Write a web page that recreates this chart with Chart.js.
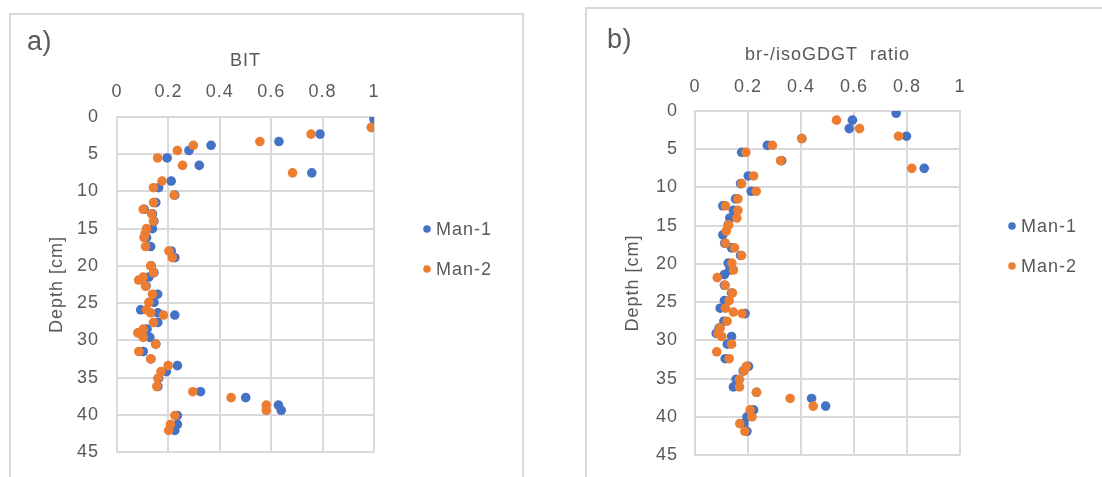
<!DOCTYPE html>
<html><head><meta charset="utf-8">
<script src="https://cdn.jsdelivr.net/npm/chart.js@4"></script>
<style>
html,body{margin:0;padding:0;background:#fff;width:1102px;height:477px;overflow:hidden;}
.panel{position:absolute;border:2px solid #d9d9d9;border-bottom:none;box-sizing:border-box;}
#pa{left:9px;top:13px;width:515px;height:470px;}
#pb{left:585px;top:7px;width:540px;height:480px;}
canvas{position:absolute;}
</style></head><body>
<div class="panel" id="pa"></div><div class="panel" id="pb"></div>
<canvas id="ca" width="540" height="477" style="left:0px;top:0px"></canvas>
<canvas id="cb" width="542" height="477" style="left:560px;top:0px"></canvas>
<script>
// ---- data ----
const seriesNames = ['Man-1', 'Man-2'];
const xTicksLabel = [0, 0.2, 0.4, 0.6, 0.8, 1];
const depthTicks = [0, 5, 10, 15, 20, 25, 30, 35, 40, 45];

const bitDepth = [0.3,1.4,2.3,3.3,3.8,4.5,5.5,6.5,7.5,8.6,9.5,10.5,11.5,12.4,13.0,14.0,15.0,15.6,16.2,17.4,18.0,18.9,20.0,20.9,21.5,21.9,22.7,23.8,24.9,25.9,26.3,26.6,27.6,28.5,29.0,29.6,30.5,31.5,32.5,33.4,34.2,35.1,36.2,36.9,37.7,38.7,39.4,40.1,41.3,42.1];
const bitMan1 = [1.0,0.99,0.79,0.63,0.366,0.28,0.195,0.32,0.758,0.211,0.162,0.225,0.151,0.106,0.138,0.144,0.138,null,0.115,0.131,0.211,0.225,0.133,0.144,0.124,null,0.113,0.158,0.144,0.092,0.159,0.225,0.159,0.117,0.085,0.128,0.151,0.102,0.132,0.235,0.192,0.162,0.159,0.325,0.501,0.628,0.639,0.235,0.235,0.225];
const bitMan2 = [null,0.99,0.755,0.556,0.297,0.235,0.158,0.255,0.683,0.175,0.142,0.222,0.142,0.102,0.135,0.142,0.115,0.11,0.105,0.111,0.202,0.215,0.131,0.142,0.102,0.084,0.111,0.138,0.124,0.115,0.131,0.181,0.142,0.102,0.081,0.102,0.151,0.085,0.131,0.199,0.171,0.159,0.155,0.295,0.444,0.581,0.581,0.225,0.208,0.201];

const ratioDepth = [0.3,1.2,2.3,3.3,3.6,4.5,5.4,6.5,7.5,8.5,9.5,10.5,11.5,12.4,13.0,14.0,14.9,15.7,16.2,17.3,17.9,18.9,19.9,20.8,21.4,21.8,22.8,23.8,24.8,25.8,26.3,26.5,27.5,28.4,29.1,29.5,30.5,31.5,32.4,33.4,34.0,35.1,36.1,36.8,37.6,38.6,39.1,40.0,40.9,41.9];
const ratioMan1 = [0.759,0.594,0.582,0.798,0.403,0.273,0.176,0.327,0.865,0.201,0.172,0.212,0.153,0.105,0.145,0.131,0.125,null,0.105,0.112,0.138,0.172,0.125,0.131,0.111,null,0.111,0.138,0.111,0.095,null,0.189,0.109,0.091,0.080,0.138,0.122,null,0.114,0.202,0.182,0.155,0.145,0.232,0.44,0.493,0.221,0.196,0.185,0.196];
const ratioMan2 = [null,0.534,0.621,0.768,0.403,0.292,0.192,0.323,0.818,0.221,0.176,0.231,0.162,0.115,0.162,0.158,0.127,0.118,null,0.115,0.149,0.176,0.139,0.145,null,0.084,0.114,0.141,0.129,0.115,0.145,0.178,0.121,0.095,0.087,0.101,0.138,0.082,0.129,0.194,0.185,0.168,0.168,0.232,0.359,0.446,0.208,0.215,0.169,0.188];

// ---- styles ----
const BLUE = '#4472C4', ORANGE = '#ED7D31', GRID = '#d9d9d9', TXT = '#595959';
const FAM = '"Liberation Sans", Arial, sans-serif';
const colors = [BLUE, ORANGE];

function pts(depths, vals) {
  const out = [];
  depths.forEach((d, i) => { if (vals[i] != null) out.push({x: vals[i], y: d}); });
  return out;
}

function makeChart(id, depths, m1, m2, xTitle, panelLabel, g) {
  const deco = {
    id: 'deco',
    beforeDraw(chart) { chart.ctx.letterSpacing = '1px'; },
    afterDraw(chart) {
      const ctx = chart.ctx;
      ctx.save();
      ctx.fillStyle = TXT;
      ctx.letterSpacing = '0.5px';
      ctx.font = '27px ' + FAM;
      ctx.textBaseline = 'middle';
      ctx.textAlign = 'left';
      ctx.fillText(panelLabel, g.lab[0], g.lab[1]);
      ctx.letterSpacing = '1px';
      ctx.font = '18px ' + FAM;
      seriesNames.forEach((n, i) => {
        const y = g.leg[1] + i * g.leg[2];
        ctx.beginPath();
        ctx.fillStyle = colors[i];
        ctx.arc(g.leg[0], y, 3.8, 0, Math.PI * 2);
        ctx.fill();
        ctx.fillStyle = TXT;
        ctx.fillText(n, g.leg[0] + 9, y + 1);
      });
      ctx.restore();
    }
  };
  const tickFont = {family: FAM, size: 18};
  new Chart(document.getElementById(id), {
    type: 'scatter',
    data: {datasets: [
      {label: seriesNames[0], data: pts(depths, m1), backgroundColor: BLUE, borderWidth: 0, pointRadius: 4.8, order: 1},
      {label: seriesNames[1], data: pts(depths, m2), backgroundColor: ORANGE, borderWidth: 0, pointRadius: 4.8, order: 0}
    ]},
    options: {
      responsive: false, animation: false, events: [],
      layout: {padding: {left: 0, top: 0, right: g.pr, bottom: g.pb}},
      plugins: {legend: {display: false}, tooltip: {enabled: false}},
      scales: {
        x: {
          type: 'linear', position: 'top', min: 0, max: 1,
          afterBuildTicks(s) { s.ticks = xTicksLabel.map(v => ({value: v})); },
          ticks: {color: TXT, font: tickFont, padding: g.xtp, callback: v => String(v)},
          grid: {color: GRID, lineWidth: 2, drawTicks: false},
          border: {color: GRID, width: 2},
          title: {display: true, text: xTitle, color: TXT, font: {family: FAM, size: 18}, padding: {top: g.xtt, bottom: 0}},
          afterFit(s) { s.height = g.xh; s.paddingLeft = 0; s.paddingRight = 0; }
        },
        y: {
          type: 'linear', reverse: true, min: 0, max: 45,
          afterBuildTicks(s) { s.ticks = depthTicks.map(v => ({value: v})); },
          ticks: {color: TXT, font: tickFont, padding: g.ytp, callback: v => String(v)},
          grid: {color: GRID, lineWidth: 2, drawTicks: false},
          border: {color: GRID, width: 2},
          title: {display: true, text: 'Depth [cm]', color: TXT, font: {family: FAM, size: 18}, padding: {top: g.ytt, bottom: 0}},
          afterFit(s) { s.width = g.yw; s.paddingTop = 0; s.paddingBottom = 0; }
        }
      }
    },
    plugins: [deco]
  });
}

makeChart('ca', bitDepth, bitMan1, bitMan2, 'BIT', 'a)',
  {pr: 166, pb: 25, xh: 117, yw: 117, xtp: 14, xtt: 50, ytp: 18, ytt: 46, lab: [27, 43], leg: [427, 229, 40]});
makeChart('cb', ratioDepth, ratioMan1, ratioMan2, 'br-/isoGDGT  ratio', 'b)',
  {pr: 142, pb: 22, xh: 111, yw: 135, xtp: 13, xtt: 44, ytp: 17, ytt: 62, lab: [47, 41], leg: [452, 226, 40]});
</script>
</body></html>
